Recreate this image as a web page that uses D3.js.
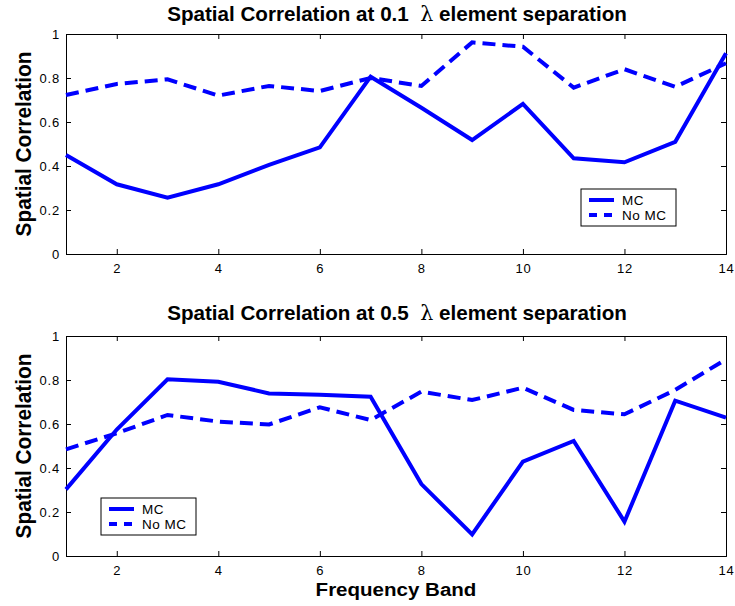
<!DOCTYPE html>
<html>
<head>
<meta charset="utf-8">
<script src="https://cdn.jsdelivr.net/npm/d3@7"></script>
<style>
  body { margin: 0; background: #fff; }
  svg { display: block; }
  text { font-family: "Liberation Sans", Arial, Helvetica, sans-serif; }
</style>
</head>
<body>
<svg id="chart" width="735" height="606"></svg>
<script>
// Frequency bands 1..14
const bands = [1, 2, 3, 4, 5, 6, 7, 8, 9, 10, 11, 12, 13, 14];

// 0.1 lambda element separation
const mc01   = [0.45, 0.317, 0.256, 0.317, 0.405, 0.485, 0.806, 0.665, 0.518, 0.682, 0.435, 0.417, 0.51, 0.912];
const nomc01 = [0.723, 0.773, 0.794, 0.72, 0.764, 0.741, 0.80, 0.764, 0.962, 0.942, 0.756, 0.84, 0.76, 0.867];

// 0.5 lambda element separation
const mc05   = [0.303, 0.575, 0.803, 0.792, 0.739, 0.733, 0.724, 0.327, 0.098, 0.429, 0.523, 0.156, 0.706, 0.629];
const nomc05 = [0.485, 0.558, 0.641, 0.611, 0.598, 0.676, 0.618, 0.747, 0.709, 0.765, 0.664, 0.644, 0.755, 0.894];

const xTicks = [2, 4, 6, 8, 10, 12, 14];
const yTicks = [0, 0.2, 0.4, 0.6, 0.8, 1];
const seriesNames = ["MC", "No MC"];
const titleParts = [
  ["Spatial Correlation at 0.1", "element separation"],
  ["Spatial Correlation at 0.5", "element separation"]
];

const svg = d3.select("#chart");
const left = 66, right = 726;
const blue = "#0000ff";

// draw a horizontal label centred at (cx, y), stretched to a given width
function fittedText(sel, cx, y, width) {
  const w = sel.node().getComputedTextLength();
  sel.attr("text-anchor", "middle")
     .attr("transform", `translate(${cx},${y}) scale(${width / w},1)`);
}

const panels = [
  { top: 34, bottom: 254, mc: mc01, nomc: nomc01, legend: { x: 581, y: 189 }, titleY: 21 },
  { top: 336, bottom: 556, mc: mc05, nomc: nomc05, legend: { x: 101, y: 498 }, titleY: 320 }
];

const x = d3.scaleLinear().domain([1, 14]).range([left, right]);

panels.forEach((p, pi) => {
  const y = d3.scaleLinear().domain([0, 1]).range([p.bottom, p.top]);
  const g = svg.append("g");

  // axes: ticks point inward on all four sides
  const fmt = d => d3.format("~g")(d);
  g.append("g").attr("transform", `translate(0,${p.bottom})`)
    .call(d3.axisBottom(x).tickValues(xTicks).tickSize(-5).tickPadding(10).tickFormat(fmt));
  g.append("g").attr("transform", `translate(0,${p.top})`)
    .call(d3.axisTop(x).tickValues(xTicks).tickSize(-5).tickFormat(""));
  g.append("g").attr("transform", `translate(${left},0)`)
    .call(d3.axisLeft(y).tickValues(yTicks).tickSize(-5).tickPadding(6).tickFormat(fmt));
  g.append("g").attr("transform", `translate(${right},0)`)
    .call(d3.axisRight(y).tickValues(yTicks).tickSize(-5).tickFormat(""));
  g.selectAll(".domain").attr("stroke", "#000").attr("stroke-width", 1);
  g.selectAll(".tick line").attr("stroke", "#000");
  g.selectAll(".tick text").attr("fill", "#000")
    .style("font-size", "13px").style("letter-spacing", "0.8px");

  const line = d3.line().x((d, i) => x(bands[i])).y(d => y(d));

  g.append("path").datum(p.nomc).attr("d", line)
    .attr("fill", "none").attr("stroke", blue).attr("stroke-width", 4)
    .attr("stroke-dasharray", "13,7");
  g.append("path").datum(p.mc).attr("d", line)
    .attr("fill", "none").attr("stroke", blue).attr("stroke-width", 4);

  // title, with a plain lambda
  const t = svg.append("text").attr("xml:space", "preserve")
    .style("font-size", "20px").style("font-weight", "bold");
  t.append("tspan").text(titleParts[pi][0] + "  ");
  t.append("tspan").style("font-weight", "normal")
    .style("font-family", "'DejaVu Serif', 'Liberation Serif', serif").text("\u03bb");
  t.append("tspan").text(" " + titleParts[pi][1]);
  fittedText(t, (left + right) / 2 + 1, p.titleY, 460);

  // y label
  const yl = svg.append("text")
    .attr("text-anchor", "middle").style("font-size", "18px").style("font-weight", "bold")
    .text("Spatial Correlation");
  const yw = yl.node().getComputedTextLength();
  yl.attr("transform",
    `translate(31,${(p.top + p.bottom) / 2}) scale(1.25,${185 / yw}) rotate(-90)`);

  // legend
  const lg = svg.append("g").attr("transform", `translate(${p.legend.x},${p.legend.y})`);
  lg.append("rect").attr("width", 95).attr("height", 37)
    .attr("fill", "#fff").attr("stroke", "#000").attr("stroke-width", 1);
  seriesNames.forEach((name, i) => {
    const ly = 11 + i * 15;
    lg.append("line").attr("x1", 8).attr("x2", 33).attr("y1", ly).attr("y2", ly)
      .attr("stroke", blue).attr("stroke-width", 4)
      .attr("stroke-dasharray", i === 1 ? "8,7" : null);
    lg.append("text").attr("x", 41).attr("y", ly + 5)
      .style("font-size", "13.5px").style("letter-spacing", "0.5px").text(name);
  });
});

// x label
const xl = svg.append("text").style("font-size", "19px").style("font-weight", "bold")
  .text("Frequency Band");
fittedText(xl, 396, 596, 161);
</script>
</body>
</html>
